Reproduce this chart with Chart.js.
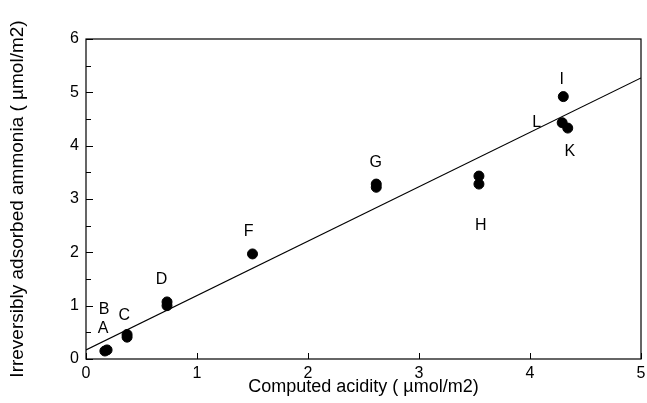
<!DOCTYPE html>
<html>
<head>
<meta charset="utf-8">
<script src="https://cdn.jsdelivr.net/npm/chart.js@4/dist/chart.umd.min.js"></script>
<style>
html,body{margin:0;padding:0;background:#fff;}
#wrap{width:647px;height:403px;}
</style>
</head>
<body>
<div id="wrap"><canvas id="c" width="647" height="403"></canvas></div>
<script>
// Measured points (Computed acidity, Irreversibly adsorbed ammonia)
const pointX = [0.17, 0.19, 0.37, 0.37, 0.73, 0.73, 1.50, 2.615, 2.615, 3.54, 3.54, 4.30, 4.29, 4.34];
const pointY = [0.15, 0.17, 0.46, 0.41, 1.07, 1.00, 1.97, 3.28, 3.22, 3.43, 3.28, 4.92, 4.43, 4.33];
// Fitted line
const lineX = [0, 5];
const lineY = [0.17, 5.27];
// Point labels (text and anchor in data units)
const labelText = ['A', 'B', 'C', 'D', 'F', 'G', 'H', 'I', 'L', 'K'];
const labelX = [0.155, 0.162, 0.344, 0.68, 1.466, 2.61, 3.557, 4.285, 4.06, 4.36];
const labelY = [0.576, 0.92, 0.806, 1.494, 2.387, 3.68, 2.51, 5.23, 4.43, 3.887];
// Axis ticks
const xTicks = [0, 1, 2, 3, 4, 5];
const yTicks = [0, 1, 2, 3, 4, 5, 6];
const yMinorTicks = [0.5, 1.5, 2.5, 3.5, 4.5, 5.5];

const FONT = "'Liberation Sans', Arial, Helvetica, sans-serif";

const framePlugin = {
  id: 'frame',
  afterDatasetsDraw(chart) {
    const {ctx, chartArea: a, scales: {x, y}} = chart;
    ctx.save();
    ctx.strokeStyle = '#000';
    ctx.lineWidth = 1.2;
    ctx.strokeRect(a.left, a.top, a.right - a.left, a.bottom - a.top);
    ctx.lineWidth = 1;
    ctx.beginPath();
    yTicks.forEach(v => {
      const py = Math.round(y.getPixelForValue(v)) + 0.5;
      ctx.moveTo(a.left, py); ctx.lineTo(a.left + 7, py);
    });
    yMinorTicks.forEach(v => {
      const py = Math.round(y.getPixelForValue(v)) + 0.5;
      ctx.moveTo(a.left, py); ctx.lineTo(a.left + 5, py);
    });
    xTicks.forEach(v => {
      const px = Math.round(x.getPixelForValue(v)) + 0.5;
      ctx.moveTo(px, a.bottom); ctx.lineTo(px, a.bottom - 6);
    });
    ctx.stroke();
    ctx.fillStyle = '#000';
    ctx.font = '16px ' + FONT;
    ctx.textAlign = 'center';
    ctx.textBaseline = 'middle';
    labelText.forEach((t, i) => {
      ctx.fillText(t, x.getPixelForValue(labelX[i]), y.getPixelForValue(labelY[i]));
    });
    ctx.restore();
  }
};

new Chart(document.getElementById('c'), {
  type: 'scatter',
  data: {
    datasets: [
      {
        label: 'fit',
        type: 'line',
        data: lineX.map((v, i) => ({x: v, y: lineY[i]})),
        borderColor: '#000',
        borderWidth: 1.2,
        pointRadius: 0,
        fill: false,
        tension: 0
      },
      {
        label: 'points',
        data: pointX.map((v, i) => ({x: v, y: pointY[i]})),
        backgroundColor: '#000',
        borderColor: '#000',
        pointRadius: 5,
        pointHoverRadius: 5
      }
    ]
  },
  options: {
    responsive: false,
    animation: false,
    events: [],
    layout: {padding: {top: 39, right: 4, left: 0, bottom: 0}},
    plugins: {legend: {display: false}, tooltip: {enabled: false}},
    scales: {
      x: {
        type: 'linear', min: 0, max: 5,
        afterFit(s) { s.height = 44; s.paddingLeft = 0; s.paddingRight = 0; },
        afterBuildTicks(s) { s.ticks = xTicks.map(v => ({value: v})); },
        grid: {display: false, drawTicks: false},
        border: {display: false},
        ticks: {color: '#000', padding: 5, font: {family: FONT, size: 16}, maxRotation: 0},
        title: {display: true, text: 'Computed acidity ( µmol/m2)', color: '#000',
                font: {family: FONT, size: 18}, padding: {top: 0, bottom: 5}}
      },
      y: {
        type: 'linear', min: 0, max: 6,
        afterFit(s) { s.width = 86; s.paddingTop = 0; s.paddingBottom = 0; },
        afterBuildTicks(s) { s.ticks = yTicks.map(v => ({value: v})); },
        grid: {display: false, drawTicks: false},
        border: {display: false},
        ticks: {color: '#000', padding: 7, font: {family: FONT, size: 16}},
        title: {display: true, text: 'Irreversibly adsorbed ammonia ( µmol/m2)', color: '#000',
                font: {family: FONT, size: 19}, padding: {top: 6, bottom: 0}}
      }
    }
  },
  plugins: [framePlugin]
});
</script>
</body>
</html>
